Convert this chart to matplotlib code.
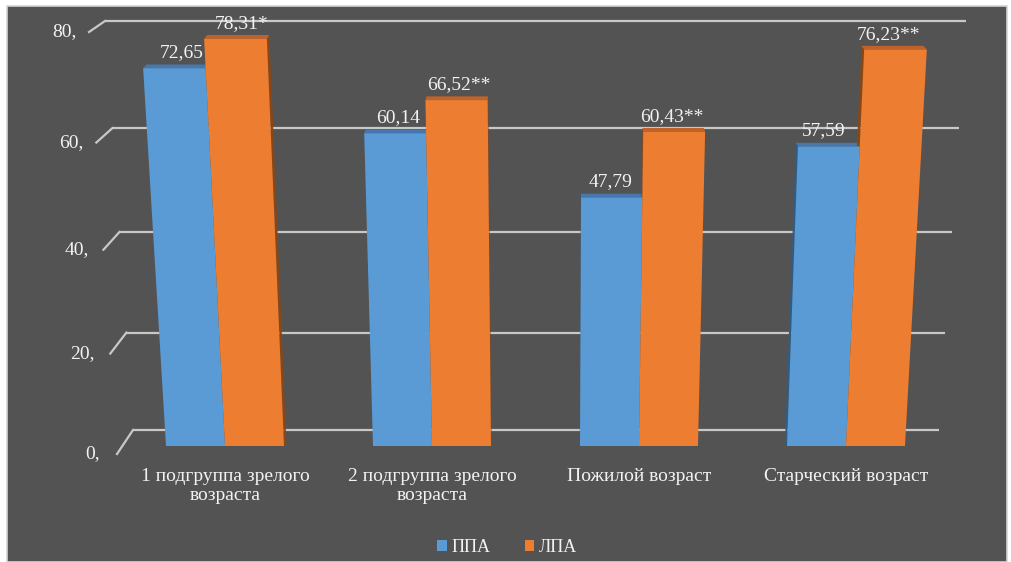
import numpy as np
import matplotlib
matplotlib.use("Agg")
import matplotlib.pyplot as plt
from matplotlib.patches import Polygon, Rectangle, Patch

# ---- data -------------------------------------------------------------
categories = ["1 подгруппа зрелого\nвозраста", "2 подгруппа зрелого\nвозраста",
              "Пожилой возраст", "Старческий возраст"]
series_names = ["ППА", "ЛПА"]
ppa = [72.65, 60.14, 47.79, 57.59]
lpa = [78.31, 66.52, 60.43, 76.23]
ppa_marks = ["", "", "", ""]
lpa_marks = ["*", "**", "**", "**"]
y_ticks = [0, 20, 40, 60, 80]
y_tick_labels = ["0,", "20,", "40,", "60,", "80,"]

# ---- style ------------------------------------------------------------
FONT = ["Liberation Serif", "DejaVu Serif"]
TXT = "#f2f2f2"
BG = "#535353"
GRID = "#c8c8c8"
FRONT = ["#5B9BD5", "#ED7D31"]
TOP = ["#4678AC", "#C0622A"]
SIDE = ["#2F5D88", "#8A4716"]

W, H = 1011, 562
fig = plt.figure(figsize=(W / 100, H / 100), dpi=100)
fig.patch.set_facecolor("white")
fig.patches.append(Rectangle((7 / W, 0), 1000 / W, 556 / H, transform=fig.transFigure,
                             facecolor=BG, edgecolor="#d4d4d4", lw=1.2, zorder=-10))

# ---- back wall with perspective gridlines -----------------------------
A, B = 4.7875, 0.00406


def fwd(v):
    v = np.asarray(v, dtype=float)
    return A * v + B * v * v


def inv(y):
    y = np.asarray(y, dtype=float)
    return (-A + np.sqrt(np.maximum(A * A + 4 * B * y, 0.0))) / (2 * B)


ax_wall = fig.add_axes([0, 0, 1, 1])
ax_wall.set_yscale("function", functions=(fwd, inv))
ax_wall.set_xlim(0, W)
ax_wall.set_ylim(float(inv(-132)), float(inv(430)))
ax_wall.axis("off")
ax_wall.patch.set_alpha(0)

for v, lab in zip(y_ticks, y_tick_labels):
    d = float(fwd(v))
    left = 133 - 28 * d / 409
    right = 939 + 27 * d / 409
    drop = 24 - 13 * d / 409
    foot = float(inv(d - drop))
    gap = 17 - 5 * d / 409
    ax_wall.plot([left, right], [v, v], color=GRID, lw=1.6, solid_capstyle="butt", zorder=1)
    ax_wall.plot([left - 16, left], [foot, v], color=GRID, lw=1.6, zorder=1)
    ax_wall.text(left - 16 - gap, foot, lab, ha="right", va="center", color=TXT,
                 fontsize=14, family=FONT)

# ---- front plane with 3D-looking bars ---------------------------------
S = 5.2           # px per value unit on the front plane
STEP = 207        # px between categories
ax = fig.add_axes([0, 0, 1, 1])
ax.set_xlim(-225 / STEP, (W - 225) / STEP)
ax.set_ylim(-116 / S, (H - 116) / S)
ax.axis("off")
ax.patch.set_alpha(0)

w = 59 / STEP     # bar width in category units
vp = 1.585        # horizontal vanishing point
kk = 8.13e-4      # upward spread per value unit
c = 0.0087        # depth shift factor
dy = 0.72         # depth rise in value units


def spread(x, v):
    return x + (x - vp) * kk * v


def depth(x):
    return -(x - vp) * c


all_vals = [ppa, lpa]
all_marks = [ppa_marks, lpa_marks]
for i in range(len(categories)):
    for j in range(2):
        v = all_vals[j][i]
        x0 = i + (j - 1) * w
        x1 = x0 + w
        t0, t1 = spread(x0, v), spread(x1, v)
        # side face
        if x1 < vp:
            xs, ts = x1, t1
        else:
            xs, ts = x0, t0
        side = [(xs, 0), (ts, v), (ts + depth(ts), v + dy), (xs + depth(xs), dy)]
        ax.add_patch(Polygon(side, closed=True, facecolor=SIDE[j], edgecolor="none", zorder=2))
        # top face
        top = [(t0, v), (t1, v), (t1 + depth(t1), v + dy), (t0 + depth(t0), v + dy)]
        ax.add_patch(Polygon(top, closed=True, facecolor=TOP[j], edgecolor="none", zorder=2))
        # front face
        front = [(x0, 0), (x1, 0), (t1, v), (t0, v)]
        ax.add_patch(Polygon(front, closed=True, facecolor=FRONT[j], edgecolor="none", zorder=3))
        mid = (t0 + t1) / 2
        label = f"{v:.2f}".replace(".", ",") + all_marks[j][i]
        ax.annotate(label, xy=(mid + 2.3 * depth(mid), v), xytext=(0, 5),
                    textcoords="offset points", ha="center", va="bottom",
                    color=TXT, fontsize=14, family=FONT, zorder=4)

for i, cat in enumerate(categories):
    ax.annotate(cat, xy=(i, 0), xytext=(0, -16), textcoords="offset points",
                ha="center", va="top", color=TXT, fontsize=14, family=FONT,
                linespacing=1.1)

handles = [Patch(facecolor=FRONT[0]), Patch(facecolor=FRONT[1])]
leg = fig.legend(handles, series_names, loc="center", bbox_to_anchor=(507 / W, 1 - 547 / H),
                 ncol=2, frameon=False, handlelength=0.55, handleheight=0.55,
                 handletextpad=0.25, columnspacing=1.9,
                 prop={"family": FONT, "size": 13})
for t in leg.get_texts():
    t.set_color(TXT)

fig.savefig("out.png", dpi=100, facecolor=fig.get_facecolor())
